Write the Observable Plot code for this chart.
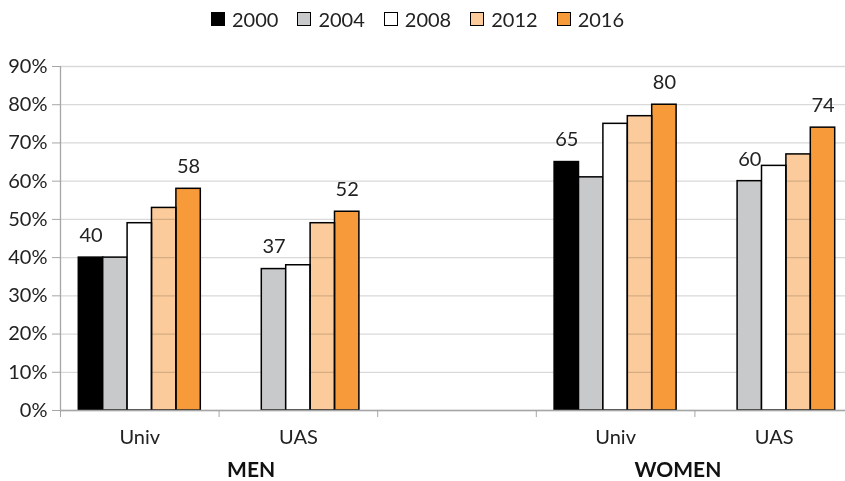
<!DOCTYPE html>
<html><head><meta charset="utf-8">
<script src="https://cdn.jsdelivr.net/npm/d3@7"></script>
<script src="https://cdn.jsdelivr.net/npm/@observablehq/plot@0.6"></script>
<style>
body{margin:0;background:#fff;font-family:Lato,"Open Sans",sans-serif;color:#222;}
#legend{height:38px;width:845px;display:flex;justify-content:flex-start;align-items:center;padding-left:211px;box-sizing:border-box;}
.item{display:flex;align-items:center;margin-right:19px;font-size:20px;}
.sw{width:12px;height:12px;border:1.3px solid #000;margin-right:7px;}
#chart svg{display:block;}
</style></head><body>
<div id="legend"></div><div id="chart"></div>
<script>
const years = ["2000","2004","2008","2012","2016"];
const colors = ["#000000","#C8C9CB","#FFFFFF","#FBCB9B","#F79B3A"];
const catLabels = ["Univ","UAS","","Univ","UAS"];
const groupLabels = ["MEN","WOMEN"];
const menUniv = [40,40,49,53,58];
const menUAS = [null,37,38,49,52];
const womenUniv = [65,61,75,77,80];
const womenUAS = [null,60,64,67,74];
const yTicks = [0,10,20,30,40,50,60,70,80,90];

const slotValues = [menUniv, menUAS, null, womenUniv, womenUAS];
const PO = 0.75, N = years.length + 2*PO;
const rows = [];
const labels = [];
slotValues.forEach((vals, i) => {
  if (!vals) return;
  const present = [];
  vals.forEach((v, j) => {
    if (v == null) return;
    const r = {slot: i, year: years[j], value: v, x1: i + (PO + j)/N, x2: i + (PO + j + 1)/N};
    rows.push(r); present.push(r);
  });
  [present[0], present[present.length-1]].forEach(r => labels.push({x: (r.x1 + r.x2)/2, value: r.value}));
});
const groups = groupLabels.map((g, k) => ({name: g, x: 1 + 3*k}));

// legend
const lg = document.getElementById("legend");
years.forEach((y, i) => {
  const it = document.createElement("div"); it.className = "item";
  const sw = document.createElement("div"); sw.className = "sw"; sw.style.background = colors[i];
  const t = document.createElement("span"); t.textContent = y;
  it.append(sw, t); lg.append(it);
});

const chart = Plot.plot({
  width: 845, height: 443,
  marginLeft: 60, marginRight: 0, marginTop: 28, marginBottom: 71,
  style: {fontFamily: "Lato, 'Open Sans', sans-serif", fontSize: "20px", color: "#222", background: "#fff", overflow: "visible"},
  x: {type: "linear", domain: [0, 5], range: [60, 853]},
  y: {domain: [0, 90], range: [372, 28]},
  color: {domain: years, range: colors},
  marks: [
    Plot.gridY(yTicks, {stroke: "#d9d9d9", strokeOpacity: 1, strokeWidth: 1.3}),
    Plot.rect(rows.filter(d => d.year !== "2012"), {x1: "x1", x2: "x2", y1: d => 0, y2: "value", fill: "year", stroke: "#000", strokeWidth: 1.5}),
    Plot.rect(rows.filter(d => d.year === "2012"), {x1: "x1", x2: "x2", y1: d => 0, y2: "value", fill: "year", stroke: "#000", strokeWidth: 1.5, mixBlendMode: "multiply"}),
    Plot.ruleX([0], {y1: 0, y2: 90, stroke: "#a6a6a6", strokeWidth: 1.3}),
    Plot.ruleY([0], {stroke: "#a6a6a6", strokeWidth: 1.3}),
    Plot.axisY({ticks: yTicks, tickFormat: d => d + "%", tickSize: 8, tickPadding: 5, stroke: "#a6a6a6", fill: "#222", label: null, fontSize: 20}),
    Plot.axisX({ticks: [0,1,2,3,4], tickFormat: () => "", tickSize: 7, stroke: "#a6a6a6", label: null}),
    Plot.axisX({ticks: [0.5,1.5,3.5,4.5], tickFormat: d => catLabels[Math.floor(d)], tickSize: 0, tickPadding: 19, fill: "#222", label: null, fontSize: 20}),
    Plot.text(groups.slice(0, 1), {x: "x", y: d => 0, text: "name", dx: 32, dy: 60, fontWeight: "bold", fontSize: 21, fill: "#111"}),
    Plot.text(groups.slice(1), {x: "x", y: d => 0, text: "name", dx: -17, dy: 60, fontWeight: "bold", fontSize: 21, fill: "#111"}),
    Plot.text(labels, {x: "x", y: "value", text: d => String(d.value), dy: -22, fontSize: 20, fill: "#222"})
  ]
});
document.getElementById("chart").append(chart);
</script>
</body></html>
